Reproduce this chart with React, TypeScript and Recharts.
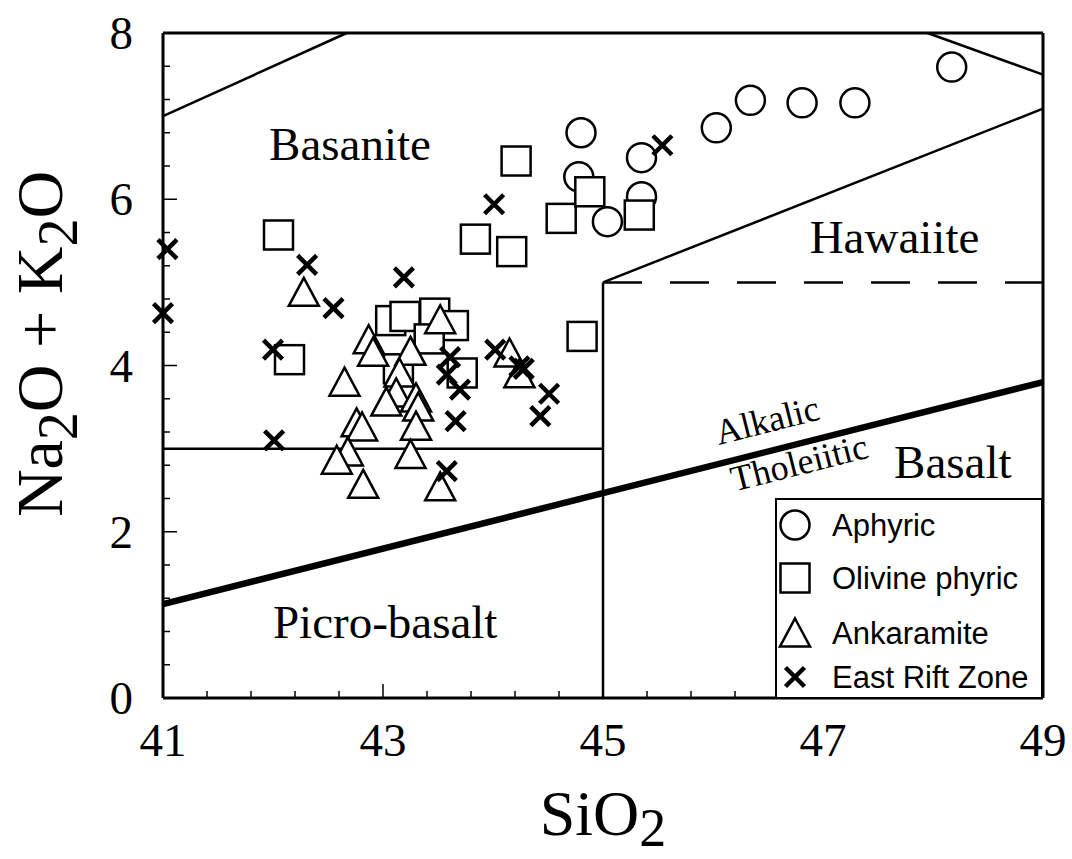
import React from 'react';
import { ScatterChart, Scatter, XAxis, YAxis, ReferenceLine, ReferenceDot, Legend } from 'recharts';

// SiO2 (wt%) and total alkali (Na2O + K2O, wt%) for each lava group
const aphyricSiO2 = [44.8, 44.78, 45.35, 45.35, 45.04, 46.03, 46.34, 46.81, 47.29, 48.17];
const aphyricAlkali = [6.8, 6.27, 6.5, 6.03, 5.73, 6.86, 7.19, 7.16, 7.16, 7.59];

const olivineSiO2 = [42.05, 44.21, 43.84, 44.17, 44.62, 44.88, 45.33, 42.15, 43.07, 43.2, 43.47, 43.64, 43.42, 43.14, 43.72, 44.81];
const olivineAlkali = [5.57, 6.46, 5.52, 5.37, 5.77, 6.09, 5.81, 4.07, 4.54, 4.59, 4.63, 4.48, 4.32, 3.96, 3.91, 4.35];

const ankaramiteSiO2 = [42.28, 42.87, 42.91, 42.65, 43.25, 43.15, 43.52, 43.12, 43.03, 43.3, 43.32, 42.76, 42.81, 43.3, 42.68, 42.58, 43.25, 42.82, 43.52, 44.15, 44.24];
const ankaramiteAlkali = [4.88, 4.31, 4.16, 3.8, 4.17, 3.91, 4.55, 3.67, 3.56, 3.61, 3.5, 3.31, 3.26, 3.27, 2.96, 2.86, 2.93, 2.57, 2.54, 4.15, 3.9];

const riftSiO2 = [41.04, 42.31, 43.19, 44.01, 41.0, 42.55, 45.54, 42.0, 42.01, 43.61, 43.58, 43.7, 43.66, 44.02, 44.24, 44.28, 44.51, 44.43, 43.58];
const riftAlkali = [5.4, 5.21, 5.06, 5.94, 4.63, 4.69, 6.65, 4.19, 3.1, 4.1, 3.89, 3.71, 3.33, 4.19, 3.99, 3.96, 3.66, 3.39, 2.73];

// axis ticks (minor every 0.4, labelled every 2)
const xTicks = [41, 41.4, 41.8, 42.2, 42.6, 43, 43.4, 43.8, 44.2, 44.6, 45, 45.4, 45.8, 46.2, 46.6, 47, 47.4, 47.8, 48.2, 48.6, 49];
const xMajor = [41, 43, 45, 47, 49];
const yTicks = [0, 0.4, 0.8, 1.2, 1.6, 2, 2.4, 2.8, 3.2, 3.6, 4, 4.4, 4.8, 5.2, 5.6, 6, 6.4, 6.8, 7.2, 7.6, 8];
const yMajor = [0, 2, 4, 6, 8];

// TAS field boundaries, clipped to the plotted window
const basaniteEdge = [{ x: 41, y: 7 }, { x: 42.67, y: 8 }];
const phonoEdge = [{ x: 47.95, y: 8 }, { x: 49, y: 7.5 }];
const hawaiiteEdge = [{ x: 45, y: 5 }, { x: 49, y: 7.09 }];
const basaltTop = [{ x: 45, y: 5 }, { x: 49, y: 5 }];
const basaltLeft = [{ x: 45, y: 0 }, { x: 45, y: 5 }];
const picroTop = [{ x: 41, y: 3 }, { x: 45, y: 3 }];
const alkalicDivide = [{ x: 41, y: 1.13 }, { x: 49, y: 3.8 }];

const zip = (xs: number[], ys: number[]) => xs.map((x, i) => ({ x, y: ys[i] }));

const SERIF = '"Liberation Serif", "Times New Roman", serif';
const SANS = '"Liberation Sans", Arial, sans-serif';

const isMajor = (v: number, majors: number[]) => majors.some((m) => Math.abs(m - v) < 1e-6);

const CircleMark = ({ cx, cy }: any) => (
  <circle cx={cx} cy={cy} r={14.5} fill="#fff" stroke="#000" strokeWidth={2.5} />
);
const SquareMark = ({ cx, cy }: any) => (
  <rect x={cx - 14.5} y={cy - 14.5} width={29} height={29} fill="#fff" stroke="#000" strokeWidth={2.5} />
);
const TriangleMark = ({ cx, cy }: any) => (
  <path d={`M${cx},${cy - 14.5}L${cx + 15},${cy + 13.5}L${cx - 15},${cy + 13.5}Z`} fill="#fff" stroke="#000" strokeWidth={2.5} strokeLinejoin="miter" />
);
const CrossMark = ({ cx, cy }: any) => (
  <path d={`M${cx - 9.5},${cy - 9.5}L${cx + 9.5},${cy + 9.5}M${cx + 9.5},${cy - 9.5}L${cx - 9.5},${cy + 9.5}`} stroke="#000" strokeWidth={4.5} fill="none" />
);

const series = [
  { name: 'Aphyric', mark: CircleMark },
  { name: 'Olivine phyric', mark: SquareMark },
  { name: 'Ankaramite', mark: TriangleMark },
  { name: 'East Rift Zone', mark: CrossMark },
];

const BottomTick = ({ x, y, payload }: any) => {
  const major = isMajor(payload.value, xMajor);
  return (
    <g>
      <line x1={x} x2={x} y1={y} y2={y - (major ? 14 : 7)} stroke="#000" strokeWidth={1.5} />
      {major && (
        <text x={x} y={y + 58} textAnchor="middle" fontFamily={SERIF} fontSize={47} fill="#000">
          {payload.value}
        </text>
      )}
    </g>
  );
};
const TopTick = ({ x, y, payload }: any) => (
  <line x1={x} x2={x} y1={y} y2={y + (isMajor(payload.value, xMajor) ? 14 : 7)} stroke="#000" strokeWidth={1.5} />
);
const LeftTick = ({ x, y, payload }: any) => {
  const major = isMajor(payload.value, yMajor);
  return (
    <g>
      <line x1={x} x2={x + (major ? 14 : 7)} y1={y} y2={y} stroke="#000" strokeWidth={1.5} />
      {major && (
        <text x={x - 30} y={y + 16} textAnchor="end" fontFamily={SERIF} fontSize={47} fill="#000">
          {payload.value}
        </text>
      )}
    </g>
  );
};
const RightTick = ({ x, y, payload }: any) => (
  <line x1={x} x2={x - (isMajor(payload.value, yMajor) ? 14 : 7)} y1={y} y2={y} stroke="#000" strokeWidth={1.5} />
);

const regionLabel = (text: string, size = 47, rotate = 0) => ({ cx, cy }: any) => (
  <text
    x={cx}
    y={cy}
    textAnchor="middle"
    fontFamily={SERIF}
    fontSize={size}
    fill="#000"
    transform={rotate ? `rotate(${rotate}, ${cx}, ${cy})` : undefined}
  >
    {text}
  </text>
);

const XTitle = ({ viewBox }: any) => {
  const cx = viewBox.x + viewBox.width / 2;
  return (
    <text x={cx} y={viewBox.y + 137} textAnchor="middle" fontFamily={SERIF} fontSize={64} fill="#000">
      SiO<tspan fontSize={54} dy={11}>2</tspan>
    </text>
  );
};

// rotated title sits left of the tick labels, centred on the plot height
const YTitle = () => {
  const cx = 62;
  const cy = 344;
  return (
    <text x={cx} y={cy} textAnchor="middle" fontFamily={SERIF} fontSize={66} fill="#000" transform={`rotate(-90, ${cx}, ${cy})`}>
      Na<tspan fontSize={56} dy={15}>2</tspan>
      <tspan dy={-15}>O + K</tspan>
      <tspan fontSize={56} dy={15}>2</tspan>
      <tspan dy={-15}>O</tspan>
    </text>
  );
};

const LegendBox = () => {
  const rows = [27, 80, 135, 179];
  return (
    <svg width={268} height={200} style={{ display: 'block' }}>
      <rect x={1} y={1} width={266} height={199} fill="#fff" stroke="#000" strokeWidth={2} />
      {series.map((s, i) => {
        const Mark = s.mark;
        return (
          <g key={s.name}>
            <Mark cx={20} cy={rows[i]} />
            <text x={57} y={rows[i] + 11} fontFamily={SANS} fontSize={31} fill="#000">
              {s.name}
            </text>
          </g>
        );
      })}
    </svg>
  );
};

const lineProps = { xAxisId: 'x', yAxisId: 'y', stroke: '#000', ifOverflow: 'visible' as const };

export default function App() {
  return (
    <div style={{ position: 'absolute', left: 0, top: 0, background: '#fff' }}>
      <ScatterChart width={1072} height={859} margin={{ top: 32, right: 28, bottom: 101, left: 63 }}>
        <XAxis
          xAxisId="x"
          type="number"
          dataKey="x"
          domain={[41, 49]}
          ticks={xTicks}
          interval={0}
          tickSize={0}
          tickMargin={0}
          height={60}
          axisLine={{ stroke: '#000', strokeWidth: 3 }}
          tick={<BottomTick />}
          label={<XTitle />}
        />
        <XAxis
          xAxisId="top"
          orientation="top"
          type="number"
          domain={[41, 49]}
          ticks={xTicks}
          interval={0}
          tickSize={0}
          tickMargin={0}
          height={1}
          axisLine={{ stroke: '#000', strokeWidth: 3 }}
          tick={<TopTick />}
        />
        <YAxis
          yAxisId="y"
          type="number"
          dataKey="y"
          domain={[0, 8]}
          ticks={yTicks}
          interval={0}
          tickSize={0}
          tickMargin={0}
          width={100}
          axisLine={{ stroke: '#000', strokeWidth: 3 }}
          tick={<LeftTick />}
          label={<YTitle />}
        />
        <YAxis
          yAxisId="right"
          orientation="right"
          type="number"
          domain={[0, 8]}
          ticks={yTicks}
          interval={0}
          tickSize={0}
          tickMargin={0}
          width={1}
          axisLine={{ stroke: '#000', strokeWidth: 3 }}
          tick={<RightTick />}
        />

        <ReferenceLine {...lineProps} segment={basaniteEdge} strokeWidth={2.5} />
        <ReferenceLine {...lineProps} segment={phonoEdge} strokeWidth={2.5} />
        <ReferenceLine {...lineProps} segment={hawaiiteEdge} strokeWidth={2.5} />
        <ReferenceLine {...lineProps} segment={basaltTop} strokeWidth={2.5} strokeDasharray="39 28" />
        <ReferenceLine {...lineProps} segment={basaltLeft} strokeWidth={2.5} />
        <ReferenceLine {...lineProps} segment={picroTop} strokeWidth={2.5} />
        <ReferenceLine {...lineProps} segment={alkalicDivide} strokeWidth={6.5} />

        <ReferenceDot xAxisId="x" yAxisId="y" x={42.7} y={6.47} r={0} shape={regionLabel('Basanite')} />
        <ReferenceDot xAxisId="x" yAxisId="y" x={47.65} y={5.35} r={0} shape={regionLabel('Hawaiite')} />
        <ReferenceDot xAxisId="x" yAxisId="y" x={48.18} y={2.65} r={0} shape={regionLabel('Basalt')} />
        <ReferenceDot xAxisId="x" yAxisId="y" x={43.02} y={0.72} r={0} shape={regionLabel('Picro-basalt')} />
        <ReferenceDot xAxisId="x" yAxisId="y" x={46.52} y={3.2} r={0} shape={regionLabel('Alkalic', 36, -14.2)} />
        <ReferenceDot xAxisId="x" yAxisId="y" x={46.81} y={2.69} r={0} shape={regionLabel('Tholeiitic', 36, -14.2)} />

        <Scatter xAxisId="x" yAxisId="y" name="Aphyric" data={zip(aphyricSiO2, aphyricAlkali)} shape={<CircleMark />} isAnimationActive={false} />
        <Scatter xAxisId="x" yAxisId="y" name="Olivine phyric" data={zip(olivineSiO2, olivineAlkali)} shape={<SquareMark />} isAnimationActive={false} />
        <Scatter xAxisId="x" yAxisId="y" name="Ankaramite" data={zip(ankaramiteSiO2, ankaramiteAlkali)} shape={<TriangleMark />} isAnimationActive={false} />
        <Scatter xAxisId="x" yAxisId="y" name="East Rift Zone" data={zip(riftSiO2, riftAlkali)} shape={<CrossMark />} isAnimationActive={false} />

        <Legend
          layout="horizontal"
          verticalAlign="middle"
          align="center"
          wrapperStyle={{ left: 775, top: 498, width: 268, height: 200 }}
          content={() => <LegendBox />}
        />
      </ScatterChart>
    </div>
  );
}
